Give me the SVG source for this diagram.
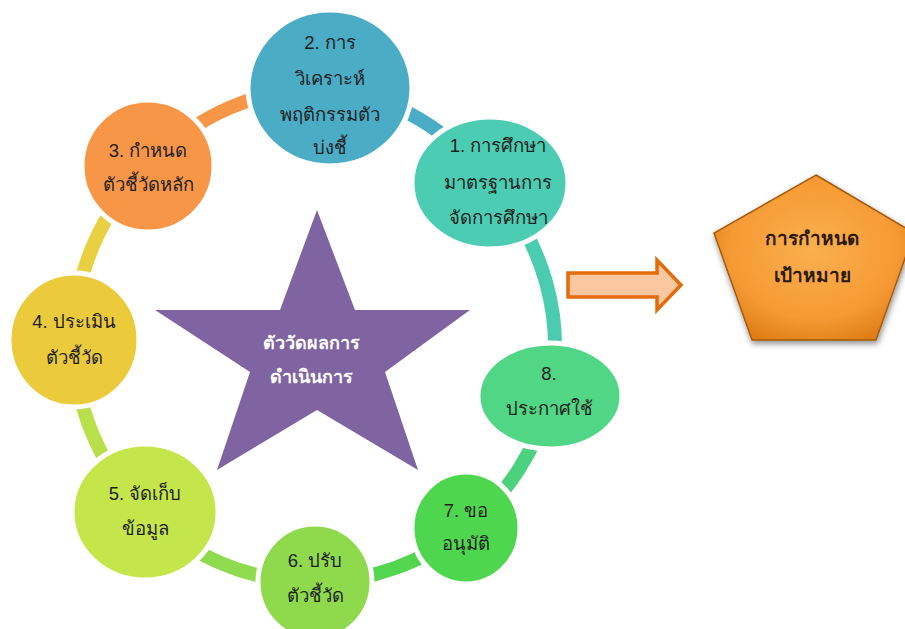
<svg xmlns="http://www.w3.org/2000/svg" width="905" height="629" viewBox="0 0 905 629">
<defs>
<style>
.seg{fill:none;stroke-width:14}
.node{stroke:#ffffff;stroke-width:5}
.t{font-family:"Liberation Sans","Noto Sans",sans-serif;font-size:18.5px;fill:#1e1e1e;text-anchor:middle}
.w{font-family:"Liberation Sans","Noto Sans",sans-serif;font-size:18px;font-weight:bold;fill:#ffffff;text-anchor:middle}
.b{font-family:"Liberation Sans","Noto Sans",sans-serif;font-size:19px;font-weight:bold;fill:#2a1a05;text-anchor:middle}
</style>
<radialGradient id="pg" cx="0.5" cy="0.45" r="0.6">
<stop offset="0" stop-color="#FBB04E"/>
<stop offset="0.7" stop-color="#F59A35"/>
<stop offset="1" stop-color="#E07E16"/>
</radialGradient>
<filter id="sh" x="-20%" y="-20%" width="140%" height="140%">
<feGaussianBlur in="SourceAlpha" stdDeviation="3"/>
<feOffset dx="1" dy="3"/>
<feComponentTransfer><feFuncA type="linear" slope="0.45"/></feComponentTransfer>
<feMerge><feMergeNode/><feMergeNode in="SourceGraphic"/></feMerge>
</filter>
</defs>
<rect width="905" height="629" fill="#ffffff"/>
<g id="connectors">
<path class="seg" stroke="#4BACC6" d="M490,183 A240,240 0 0 0 331,88"/>
<path class="seg" stroke="#F79646" d="M331,88 A240,240 0 0 0 148,166"/>
<path class="seg" stroke="#E8D040" d="M148,166 A240,240 0 0 0 74,340"/>
<path class="seg" stroke="#B8E04A" d="M74,340 A240,240 0 0 0 145,512"/>
<path class="seg" stroke="#8FDB50" d="M145,512 A240,240 0 0 0 315,582"/>
<path class="seg" stroke="#52D650" d="M315,582 A240,240 0 0 0 466,528"/>
<path class="seg" stroke="#4CD27E" d="M466,528 A240,240 0 0 0 550,396"/>
<path class="seg" stroke="#4BCBB0" d="M550,396 A240,240 0 0 0 490,183"/>
<polygon id="arrow" points="568,273 657,273 657,260 681,285 657,310 657,297 568,297" fill="#FBC7A0" stroke="#E46C0A" stroke-width="3.5" stroke-linejoin="miter"/>
</g>
<g id="star">
<polygon points="317,210 355,310 470,310 385,372 418,470 317,410 217,470 250,372 155,310 280,310" fill="#8064A2"/>
<text class="w" x="311" y="349">ตัววัดผลการ</text>
<text class="w" x="311" y="383">ดำเนินการ</text>
</g>
<g id="n1">
<ellipse class="node" cx="490" cy="183" rx="78" ry="66" fill="#4CCDB3"/>
<text class="t" x="498" y="152">1. การศึกษา</text>
<text class="t" x="498" y="189">มาตรฐานการ</text>
<text class="t" x="498" y="224">จัดการศึกษา</text>
</g>
<g id="n2">
<ellipse class="node" cx="330" cy="88" rx="82" ry="78" fill="#4BACC6"/>
<text class="t" x="330" y="49">2. การ</text>
<text class="t" x="330" y="85">วิเคราะห์</text>
<text class="t" x="330" y="121">พฤติกรรมตัว</text>
<text class="t" x="330" y="154">บ่งชี้</text>
</g>
<g id="n3">
<ellipse class="node" cx="148" cy="166" rx="66" ry="66" fill="#F79646"/>
<text class="t" x="148" y="157">3. กำหนด</text>
<text class="t" x="148" y="191">ตัวชี้วัดหลัก</text>
</g>
<g id="n4">
<ellipse class="node" cx="74" cy="340" rx="65" ry="67" fill="#EBCB3C"/>
<text class="t" x="74" y="328">4. ประเมิน</text>
<text class="t" x="74" y="364">ตัวชี้วัด</text>
</g>
<g id="n5">
<ellipse class="node" cx="145" cy="512" rx="73" ry="68" fill="#C5E64A"/>
<text class="t" x="145" y="500">5. จัดเก็บ</text>
<text class="t" x="145" y="535">ข้อมูล</text>
</g>
<g id="n6">
<ellipse class="node" cx="315" cy="582" rx="57" ry="58" fill="#8FD94C"/>
<text class="t" x="315" y="567">6. ปรับ</text>
<text class="t" x="315" y="602">ตัวชี้วัด</text>
</g>
<g id="n7">
<ellipse class="node" cx="466" cy="528" rx="54" ry="56" fill="#4FD64F"/>
<text class="t" x="466" y="517">7. ขอ</text>
<text class="t" x="466" y="550">อนุมัติ</text>
</g>
<g id="n8">
<ellipse class="node" cx="550" cy="396" rx="72" ry="53" fill="#50D684"/>
<text class="t" x="549" y="380">8.</text>
<text class="t" x="549" y="415">ประกาศใช้</text>
</g>
<g id="goal">
<polygon points="816,175 914,233 876,340 752,340 714,233" fill="url(#pg)" stroke="#A65A08" stroke-width="1.5" filter="url(#sh)"/>
<text class="b" x="812" y="245">การกำหนด</text>
<text class="b" x="812" y="282">เป้าหมาย</text>
</g>
</svg>
